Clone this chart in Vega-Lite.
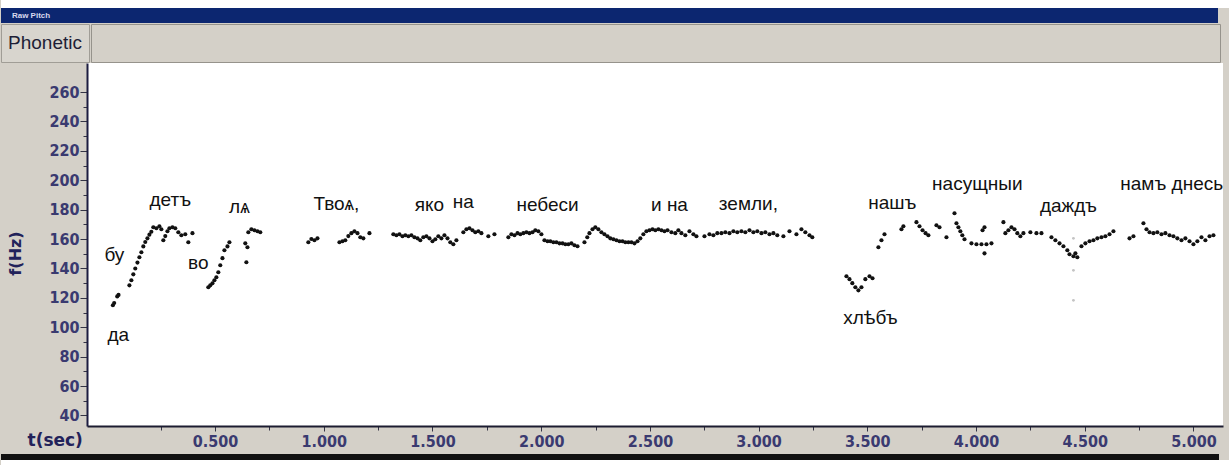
{
  "$schema": "https://vega.github.io/schema/vega-lite/v6.json",
  "background": "#d4d0c8",
  "padding": 0,
  "spacing": 0,
  "config": {"view": {"stroke": null}, "axis": {"labelOverlap": false}},
  "datasets": {
    "pitch": [
      {"t":0.030,"f":115},{"t":0.036,"f":116.5},{"t":0.050,"f":121},{"t":0.056,"f":122},
      {"t":0.106,"f":128.5},{"t":0.115,"f":132},{"t":0.124,"f":136},{"t":0.133,"f":140},{"t":0.143,"f":144},{"t":0.152,"f":147.6},{"t":0.161,"f":151},{"t":0.170,"f":155},{"t":0.179,"f":158},{"t":0.189,"f":160.5},{"t":0.198,"f":163},{"t":0.207,"f":165},{"t":0.216,"f":168},
      {"t":0.230,"f":167.4},{"t":0.244,"f":168.7},{"t":0.253,"f":166.7},{"t":0.262,"f":159.2},{"t":0.271,"f":162},{"t":0.281,"f":165.3},{"t":0.290,"f":167.4},{"t":0.304,"f":168},{"t":0.317,"f":167.4},{"t":0.331,"f":164.6},{"t":0.345,"f":162.6},{"t":0.363,"f":163.3},{"t":0.377,"f":157.8},{"t":0.396,"f":164},
      {"t":0.469,"f":127.2},{"t":0.478,"f":128.5},{"t":0.488,"f":129.9},{"t":0.497,"f":132},{"t":0.506,"f":134},{"t":0.515,"f":137.4},{"t":0.524,"f":142.2},{"t":0.534,"f":147},{"t":0.543,"f":152.4},{"t":0.557,"f":155},{"t":0.566,"f":157.8},{"t":0.639,"f":157.1},{"t":0.649,"f":154.4},{"t":0.644,"f":144.2},
      {"t":0.653,"f":164.6},{"t":0.667,"f":166.7},{"t":0.681,"f":166},{"t":0.695,"f":165.3},{"t":0.708,"f":164.6},
      {"t":0.929,"f":157.8},{"t":0.943,"f":160},{"t":0.957,"f":159.2},{"t":0.971,"f":160.5},
      {"t":1.072,"f":157.8},{"t":1.086,"f":158.5},{"t":1.099,"f":159.2},{"t":1.113,"f":162},{"t":1.127,"f":164},{"t":1.141,"f":165.3},{"t":1.155,"f":164},{"t":1.168,"f":161.2},{"t":1.182,"f":160.5},{"t":1.210,"f":164},
      {"t":1.320,"f":163.3},{"t":1.334,"f":162.6},{"t":1.348,"f":163.3},{"t":1.362,"f":161.9},{"t":1.375,"f":162.6},{"t":1.389,"f":161.9},{"t":1.403,"f":162.6},{"t":1.417,"f":161.2},
      {"t":1.431,"f":160.5},{"t":1.444,"f":159.2},{"t":1.458,"f":161.2},{"t":1.472,"f":161.9},{"t":1.486,"f":160.5},{"t":1.500,"f":158.5},{"t":1.513,"f":159.9},{"t":1.527,"f":161.9},{"t":1.541,"f":160.5},{"t":1.555,"f":162.6},{"t":1.569,"f":160.5},{"t":1.582,"f":157.8},{"t":1.596,"f":156.5},{"t":1.610,"f":159.2},
      {"t":1.642,"f":164.6},{"t":1.656,"f":166.7},{"t":1.670,"f":167.4},{"t":1.684,"f":166},{"t":1.697,"f":164.6},{"t":1.711,"f":165.3},{"t":1.725,"f":164},
      {"t":1.757,"f":161.9},{"t":1.785,"f":163.3},
      {"t":1.849,"f":161.2},{"t":1.863,"f":163.3},{"t":1.877,"f":162.6},{"t":1.891,"f":164},{"t":1.904,"f":163.3},{"t":1.918,"f":164},{"t":1.932,"f":164.6},{"t":1.946,"f":164},{"t":1.960,"f":164.6},{"t":1.973,"f":166},{"t":1.987,"f":165.3},{"t":2.001,"f":163.3},
      {"t":2.015,"f":159.2},{"t":2.029,"f":158.5},{"t":2.042,"f":158.5},{"t":2.056,"f":157.8},{"t":2.070,"f":157.8},{"t":2.084,"f":157.1},{"t":2.098,"f":157.1},{"t":2.111,"f":156.5},{"t":2.125,"f":156.5},{"t":2.139,"f":157.1},{"t":2.153,"f":155.8},{"t":2.167,"f":155.1},
      {"t":2.199,"f":157.8},{"t":2.212,"f":161.2},{"t":2.222,"f":164},
      {"t":2.236,"f":166.7},{"t":2.249,"f":168},{"t":2.263,"f":166.7},{"t":2.277,"f":164.6},{"t":2.291,"f":163.3},{"t":2.305,"f":161.9},{"t":2.318,"f":160.5},{"t":2.332,"f":159.9},{"t":2.346,"f":159.2},{"t":2.360,"f":158.5},{"t":2.374,"f":158.5},{"t":2.387,"f":157.8},{"t":2.401,"f":157.8},{"t":2.415,"f":157.8},{"t":2.429,"f":157.1},{"t":2.443,"f":158.5},{"t":2.456,"f":160.5},
      {"t":2.470,"f":163.3},{"t":2.484,"f":165.3},{"t":2.498,"f":166},{"t":2.512,"f":166.7},{"t":2.525,"f":166},{"t":2.539,"f":166.7},{"t":2.553,"f":166},{"t":2.567,"f":165.3},{"t":2.581,"f":166},
      {"t":2.599,"f":164.6},{"t":2.617,"f":164},{"t":2.631,"f":166},{"t":2.645,"f":164},{"t":2.663,"f":162.6},{"t":2.682,"f":165.3},{"t":2.700,"f":163.3},{"t":2.714,"f":161.9},
      {"t":2.751,"f":161.9},{"t":2.774,"f":163.3},{"t":2.792,"f":162.6},{"t":2.810,"f":164},
      {"t":2.829,"f":164},{"t":2.847,"f":164.6},{"t":2.866,"f":164},{"t":2.884,"f":165.3},{"t":2.902,"f":164.6},{"t":2.921,"f":165.3},{"t":2.939,"f":164.6},{"t":2.958,"f":166},{"t":2.976,"f":164.6},{"t":2.994,"f":165.3},{"t":3.013,"f":164},{"t":3.031,"f":164.6},{"t":3.050,"f":163.3},{"t":3.068,"f":164},{"t":3.086,"f":162.6},
      {"t":3.114,"f":161.9},{"t":3.142,"f":165.3},{"t":3.174,"f":163.3},{"t":3.197,"f":166.7},{"t":3.215,"f":164.6},{"t":3.234,"f":162.6},{"t":3.247,"f":161.2},
      {"t":3.404,"f":134.7},{"t":3.418,"f":132.7},{"t":3.431,"f":130},{"t":3.445,"f":127.2},{"t":3.459,"f":125.1},{"t":3.473,"f":127.2},{"t":3.491,"f":132.7},{"t":3.510,"f":134.7},{"t":3.524,"f":133.3},
      {"t":3.551,"f":154.4},{"t":3.565,"f":159.2},{"t":3.579,"f":163.3},{"t":3.657,"f":166.7},{"t":3.666,"f":168.7},
      {"t":3.726,"f":171.5},{"t":3.740,"f":168.7},{"t":3.754,"f":166},{"t":3.768,"f":164},{"t":3.781,"f":162.6},
      {"t":3.818,"f":169.4},{"t":3.832,"f":168},{"t":3.864,"f":161.2},{"t":3.901,"f":177.6},
      {"t":3.910,"f":170.8},{"t":3.919,"f":168},{"t":3.928,"f":165.3},{"t":3.937,"f":162.6},{"t":3.947,"f":159.9},
      {"t":3.979,"f":157.1},{"t":4.002,"f":156.5},{"t":4.025,"f":156.5},{"t":4.048,"f":156.5},{"t":4.071,"f":157.1},{"t":4.039,"f":150.3},{"t":4.030,"f":166},{"t":4.039,"f":168},
      {"t":4.126,"f":171.5},{"t":4.135,"f":164},{"t":4.149,"f":166},{"t":4.163,"f":168},{"t":4.177,"f":166.7},{"t":4.190,"f":164},{"t":4.204,"f":161.9},{"t":4.218,"f":164},
      {"t":4.250,"f":164.6},{"t":4.278,"f":164},{"t":4.301,"f":164},
      {"t":4.347,"f":161.2},{"t":4.365,"f":159.2},{"t":4.384,"f":157.1},{"t":4.402,"f":155.1},{"t":4.420,"f":152.4},{"t":4.430,"f":149.7},{"t":4.448,"f":148.3},{"t":4.466,"f":147.6},{"t":4.457,"f":150.3},
      {"t":4.485,"f":155.1},{"t":4.503,"f":157.1},{"t":4.522,"f":158.5},{"t":4.540,"f":159.2},{"t":4.558,"f":160.5},{"t":4.577,"f":161.2},{"t":4.595,"f":161.9},{"t":4.614,"f":163.3},{"t":4.632,"f":165.3},
      {"t":4.706,"f":160.5},{"t":4.724,"f":161.9},
      {"t":4.770,"f":170.8},{"t":4.784,"f":166.7},{"t":4.798,"f":164.6},{"t":4.816,"f":164},{"t":4.834,"f":164.6},{"t":4.853,"f":163.3},{"t":4.871,"f":164},{"t":4.890,"f":162.6},{"t":4.908,"f":161.9},{"t":4.926,"f":160.5},{"t":4.945,"f":159.2},{"t":4.963,"f":160.5},{"t":4.982,"f":158.5},{"t":5.000,"f":156.5},{"t":5.018,"f":158.5},{"t":5.037,"f":161.2},{"t":5.055,"f":159.2},{"t":5.074,"f":161.9},{"t":5.092,"f":162.6}
    ],
    "faint": [
      {"t":4.448,"f":138.7},{"t":4.448,"f":118.3},{"t":4.448,"f":160.5}
    ],
    "words": [
      {"t":0.037,"f":149,"w":"бу"},
      {"t":0.055,"f":94.5,"w":"да"},
      {"t":0.294,"f":186.4,"w":"детъ"},
      {"t":0.423,"f":144,"w":"во"},
      {"t":0.612,"f":181.7,"w":"лѧ"},
      {"t":1.058,"f":183.7,"w":"Твоѧ,"},
      {"t":1.486,"f":183,"w":"яко"},
      {"t":1.642,"f":185.4,"w":"на"},
      {"t":2.029,"f":183,"w":"небеси"},
      {"t":2.590,"f":183,"w":"и на"},
      {"t":2.953,"f":183.7,"w":"земли,"},
      {"t":3.514,"f":106,"w":"хлѣбъ"},
      {"t":3.615,"f":184.4,"w":"нашъ"},
      {"t":4.006,"f":197.3,"w":"насущныи"},
      {"t":4.425,"f":182.3,"w":"даждъ"},
      {"t":4.900,"f":197.3,"w":"намъ днесь"}
    ]
  },
  "vconcat": [
    {
      "width": 1229, "height": 8,
      "view": {"fill": "#ffffff", "stroke": null},
      "data": {"values": []},
      "mark": {"type": "point"},
      "encoding": {}
    },
    {
      "width": 1217, "height": 15,
      "view": {"fill": "#0c2670", "stroke": null},
      "data": {"values": [{"p": 0.009, "s": "Raw Pitch"}]},
      "mark": {"type": "text", "align": "left", "baseline": "middle", "font": "Liberation Sans", "fontSize": 8, "fontWeight": "bold", "color": "#d8d8ee"},
      "encoding": {
        "x": {"field": "p", "type": "quantitative", "scale": {"domain": [0, 1]}, "axis": null},
        "text": {"field": "s", "type": "nominal"}
      }
    },
    {
      "hconcat": [
        {
          "width": 88, "height": 38,
          "view": {"fill": "#d8d5ce", "stroke": "#a09d96"},
          "data": {"values": [{"s": "Phonetic"}]},
          "mark": {"type": "text", "baseline": "middle", "font": "Liberation Sans", "fontSize": 19, "color": "#1e1e36"},
          "encoding": {"text": {"field": "s", "type": "nominal"}}
        },
        {
          "width": 1129, "height": 38,
          "view": {"fill": "#d4d0c8", "stroke": "#96938c"},
          "data": {"values": []},
          "mark": {"type": "point"},
          "encoding": {}
        }
      ],
      "spacing": 0
    },
    {
      "hconcat": [
        {
          "width": 86, "height": 363,
          "view": {"fill": null, "stroke": null},
          "data": {"values": []},
          "mark": {"type": "point"},
          "encoding": {}
        },
        {
          "width": 1136, "height": 363,
          "view": {"fill": "#ffffff", "stroke": null},
          "encoding": {
            "x": {
              "field": "t", "type": "quantitative",
              "scale": {"domain": [-0.089, 5.136], "nice": false, "zero": false},
              "axis": {
                "values": [0.25,0.5,0.75,1,1.25,1.5,1.75,2,2.25,2.5,2.75,3,3.25,3.5,3.75,4,4.25,4.5,4.75,5],
                "labelExpr": "round(datum.value*4) % 2 === 0 ? format(datum.value, '.3f') : ''",
                "labelOverlap": false, "labelFlush": false, "grid": false,
                "labelFont": "Liberation Sans Narrow, DejaVu Sans Condensed, sans-serif",
                "labelFontSize": 16, "labelFontWeight": "bold", "labelColor": "#3a3a70", "labelPadding": 2,
                "tickColor": "#333344", "tickSize": {"condition": {"test": "round(datum.value*4) % 2 === 0", "value": 5}, "value": 4},
                "domainColor": "#1c1c30", "domainWidth": 2,
                "title": "t(sec)", "titleX": -60, "titleY": 14, "titleAlign": "left", "titleBaseline": "middle",
                "titleFont": "DejaVu Sans", "titleFontSize": 17, "titleFontWeight": "bold", "titleColor": "#22225a"
              }
            },
            "y": {
              "field": "f", "type": "quantitative",
              "scale": {"domain": [32.8, 279.8], "nice": false, "zero": false},
              "axis": {
                "values": [40,50,60,70,80,90,100,110,120,130,140,150,160,170,180,190,200,210,220,230,240,250,260],
                "labelExpr": "datum.value % 20 === 0 ? datum.label : ''",
                "labelOverlap": false, "labelFlush": false, "grid": false,
                "labelFont": "Liberation Sans Narrow, DejaVu Sans Condensed, sans-serif",
                "labelFontSize": 16, "labelFontWeight": "bold", "labelColor": "#3a3a70", "labelPadding": 1,
                "tickColor": "#333344", "tickSize": {"condition": {"test": "datum.value % 20 === 0", "value": 7}, "value": 4},
                "domainColor": "#1c1c40", "domainWidth": 2,
                "title": "f(Hz)", "titleX": -72, "titleY": 190, "titleAlign": "center", "titleBaseline": "middle",
                "titleFont": "DejaVu Sans", "titleFontSize": 16, "titleFontWeight": "bold", "titleColor": "#22225a"
              }
            }
          },
          "layer": [
            {
              "data": {"name": "pitch"},
              "mark": {"type": "circle", "size": 17, "color": "#111111", "opacity": 1}
            },
            {
              "data": {"name": "faint"},
              "mark": {"type": "circle", "size": 8, "color": "#c4c4c4", "opacity": 1}
            },
            {
              "data": {"name": "words"},
              "mark": {"type": "text", "font": "Liberation Sans", "fontSize": 19, "color": "#111111", "baseline": "middle"},
              "encoding": {
                "text": {"field": "w", "type": "nominal"}
              }
            }
          ]
        }
      ],
      "spacing": 0,
      "bounds": "flush"
    },
    {
      "width": 10, "height": 5,
      "view": {"fill": null, "stroke": null},
      "data": {"values": []},
      "mark": {"type": "point"},
      "encoding": {}
    },
    {
      "width": 1218, "height": 6,
      "view": {"fill": "#111111", "stroke": null},
      "data": {"values": []},
      "mark": {"type": "point"},
      "encoding": {}
    },
    {
      "width": 1229, "height": 5,
      "view": {"fill": "#ffffff", "stroke": null},
      "data": {"values": []},
      "mark": {"type": "point"},
      "encoding": {}
    }
  ]
}
